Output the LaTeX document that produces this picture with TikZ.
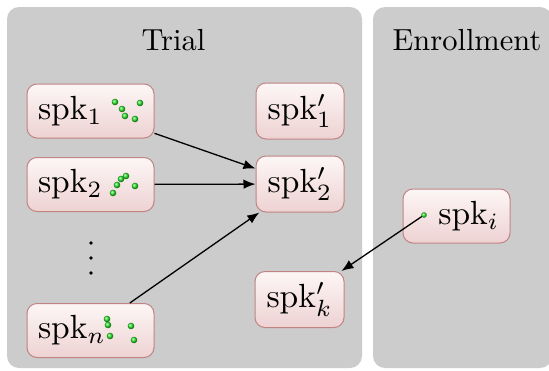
\documentclass[tikz,border=0pt]{standalone}
\usepackage{graphicx}
\usetikzlibrary{arrows.meta,shadings}
\definecolor{panelgray}{RGB}{204,204,204}
\definecolor{boxborder}{RGB}{192,132,132}
\definecolor{boxtop}{RGB}{253,246,246}
\definecolor{boxbot}{RGB}{238,210,210}
\definecolor{dotgreen}{RGB}{40,230,40}
\newcommand\spkt[1]{\scalebox{3.35}{#1}}
\newcommand\ttlt[1]{\scalebox{3.05}{#1}}
\begin{document}
\begin{tikzpicture}[x=1pt,y=-1pt,
  panel/.style={fill=panelgray,draw=none,rounded corners=12pt},
  title/.style={anchor=base},
  spkbox/.style={draw=boxborder,line width=1pt,rounded corners=10pt,
    top color=boxtop,bottom color=boxbot,minimum height=54pt,
    inner xsep=11pt,inner ysep=0pt},
  arr/.style={-{Latex[length=12pt,width=9.5pt]},line width=1.3pt,black},
  gdot/.style={ball color=dotgreen}
]
\useasboundingbox (0,0) rectangle (549,370);
\fill[white] (0,0) rectangle (549,370);
% panels
\path[panel] (7,7) rectangle (362,368);
\path[panel] (373,7) rectangle (552,368);
\node[title] (ttrial) at (173.5,50) {\ttlt{Trial}};
\node[title] (tenroll) at (467,50) {\ttlt{Enrollment}};
% trial speakers
\node[spkbox,text width=105pt,align=left] (s1) at (90.5,111) {\spkt{spk$_1$}};
\node[spkbox,text width=105pt,align=left] (s2) at (90.5,184.5) {\spkt{spk$_2$}};
\node[spkbox,text width=105pt,align=left] (sn) at (90.5,330.5) {\spkt{spk$_n$}};
\node[spkbox,text width=66pt,align=center,minimum height=56pt] (p1) at (300,111) {\spkt{spk$'_1$}};
\node[spkbox,text width=66pt,align=center,minimum height=56pt] (p2) at (300,184) {\spkt{spk$'_2$}};
\node[spkbox,text width=67pt,align=center,minimum height=56pt] (pk) at (299.5,299.5) {\spkt{spk$'_k$}};
% enrollment speaker
\node[spkbox,text width=85pt,align=right,inner xsep=11pt] (si) at (456.5,216) {\spkt{spk$_i$}};
% vertical dots
\foreach \yy in {243,258,273} \fill (91,\yy) circle (1.8pt);
% arrows
\draw[arr] (s1) -- (p2);
\draw[arr] (s2) -- (p2);
\draw[arr] (sn) -- (p2);
\coordinate (gi) at (424,215);
\draw[arr] (gi) -- (pk);
% green embedding dots
\foreach \p in {(115,102),(122,109),(125,116),(135,119),(140,103)} \shade[gdot] \p circle (3.3pt);
\foreach \p in {(113,193),(117,185),(121,179),(126,176),(135,186)} \shade[gdot] \p circle (3.3pt);
\foreach \p in {(107,319),(108,325),(110,336),(131,326),(134,340)} \shade[gdot] \p circle (3.3pt);
\shade[gdot] (gi) circle (2.8pt);
\end{tikzpicture}
\end{document}
